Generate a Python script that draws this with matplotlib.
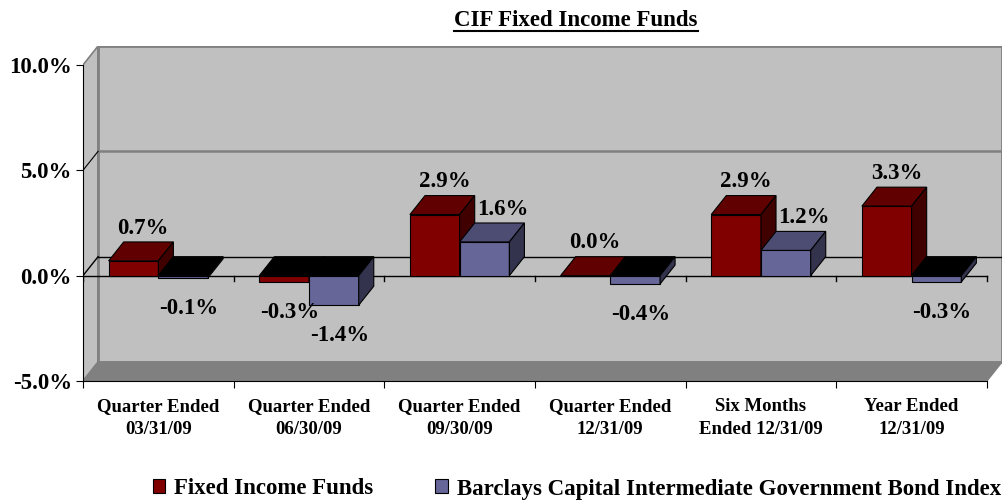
import matplotlib.pyplot as plt
import numpy as np
from matplotlib.patches import Polygon, Patch
from matplotlib.lines import Line2D

categories = ['Quarter Ended\n03/31/09', 'Quarter Ended\n06/30/09', 'Quarter Ended\n09/30/09',
              'Quarter Ended\n12/31/09', 'Six Months\nEnded 12/31/09', 'Year Ended\n12/31/09']
fixed_income = [0.7, -0.3, 2.9, 0.0, 2.9, 3.3]
barclays = [-0.1, -1.4, 1.6, -0.4, 1.2, -0.3]
series_names = ['Fixed Income Funds', 'Barclays Capital Intermediate Government Bond Index']
yticks = [-5, 0, 5, 10]

plt.rcParams['font.family'] = 'Liberation Serif'
plt.rcParams['font.weight'] = 'bold'

# face colours: front, top, side
red = ('#800000', '#600000', '#400000')
blue = ('#666699', '#4d4d73', '#33334d')

W, H = 1008, 504
fig = plt.figure(figsize=(W / 100, H / 100), dpi=100)
ax = fig.add_axes([83 / W, 123 / H, 919 / W, 335 / H])

n = len(categories)
dx, dy = 0.1, 0.9          # 3d depth offset in data units
ymin, ymax = -5, 10
ax.set_xlim(0, n + dx)
ax.set_ylim(ymin, ymax + dy)

# walls and floor
ax.add_patch(Polygon([(0, ymin), (0, ymax), (dx, ymax + dy), (dx, ymin + dy)],
                     closed=True, fc='#c0c0c0', ec='#808080', lw=1.2, zorder=0))
ax.add_patch(Polygon([(dx, ymin + dy), (dx, ymax + dy), (n + dx, ymax + dy), (n + dx, ymin + dy)],
                     closed=True, fc='#c0c0c0', ec='#808080', lw=2, zorder=0))
ax.add_patch(Polygon([(0, ymin), (n, ymin), (n + dx, ymin + dy), (dx, ymin + dy)],
                     closed=True, fc='#808080', ec='#808080', lw=1, zorder=1))

# gridlines on back and side wall
ax.plot([dx, n + dx], [5 + dy, 5 + dy], color='#808080', lw=1.8, zorder=2)
ax.plot([0, dx], [5, 5 + dy], color='black', lw=0.8, zorder=2)
ax.plot([dx, n + dx], [dy, dy], color='black', lw=1, zorder=2)
ax.plot([0, dx], [0, dy], color='black', lw=1, zorder=2)

# category axis crossing at zero
ax.plot([0, n], [0, 0], color='black', lw=1, zorder=3)
for k in range(n + 1):
    ax.plot([k, k], [0, -0.24], color='black', lw=1, zorder=3)

# 3d bars
width = 0.33
start = 0.17
label_dx = [7, 13]
for i in range(n):
    for s, (vals, cols) in enumerate([(fixed_income, red), (barclays, blue)]):
        v = vals[i]
        x0 = i + start + s * width
        x1 = x0 + width
        z = 10 + i * 2 + s
        ax.bar(x0, v, width, bottom=0, align='edge', color=cols[0],
               edgecolor='black', lw=0.8, zorder=z)
        top = max(v, 0)
        top_col = 'black' if v < 0 else cols[1]
        ax.add_patch(Polygon([(x0, top), (x1, top), (x1 + dx, top + dy), (x0 + dx, top + dy)],
                             closed=True, fc=top_col, ec='black', lw=0.8, zorder=z))
        if v != 0:
            ax.add_patch(Polygon([(x1, 0), (x1, v), (x1 + dx, v + dy), (x1 + dx, dy)],
                                 closed=True, fc=cols[2], ec='black', lw=0.8, zorder=z))
        xc = (x0 + x1) / 2
        if v >= 0:
            ax.annotate(f'{v:.1f}%', (xc, v + dy), xytext=(label_dx[s], 10), textcoords='offset points',
                        ha='center', va='center', fontsize=16.5, fontweight='bold', zorder=40)
        else:
            ax.annotate(f'{v:.1f}%', (xc, v), xytext=(4, -22), textcoords='offset points',
                        ha='center', va='center', fontsize=16.5, fontweight='bold', zorder=40)

# axes decoration
for sp in ['top', 'right']:
    ax.spines[sp].set_visible(False)
ax.spines['left'].set_bounds(ymin, ymax)
ax.spines['bottom'].set_bounds(0, n)
ax.spines['left'].set_zorder(5)
ax.spines['bottom'].set_zorder(5)
ax.set_yticks(yticks)
ax.set_yticklabels([f'{t:.1f}%' for t in yticks], fontsize=16.5, fontweight='bold')
ax.tick_params(axis='y', direction='out', length=5, pad=3)
ax.set_xticks(np.arange(n + 1))
ax.set_xticklabels([])
ax.tick_params(axis='x', which='major', direction='out', length=5)
ax.set_xticks(np.arange(n) + 0.5, minor=True)
ax.set_xticklabels(categories, minor=True, fontsize=13.5, fontweight='bold', linespacing=1.5)
ax.tick_params(axis='x', which='minor', length=0, pad=12)

# title with underline
t = fig.text(576 / W, 1 - 21 / H, 'CIF Fixed Income Funds', ha='center', va='center',
             fontsize=16.5, fontweight='bold')
fig.canvas.draw()
bb = t.get_window_extent()
fig.add_artist(Line2D([bb.x0 / W, bb.x1 / W], [(bb.y0 + 1) / H, (bb.y0 + 1) / H],
                      transform=fig.transFigure, color='black', lw=1.5))

handles = [Patch(fc=red[0], ec='black', lw=0.8), Patch(fc=blue[0], ec='black', lw=0.8)]
fig.legend(handles, series_names, loc='center', bbox_to_anchor=(577 / W, 1 - 489 / H), ncol=2,
           frameon=False, fontsize=16.5, handlelength=0.55, handleheight=0.55,
           handletextpad=0.4, columnspacing=2.7, borderpad=0)

fig.savefig('out.png', dpi=100)
